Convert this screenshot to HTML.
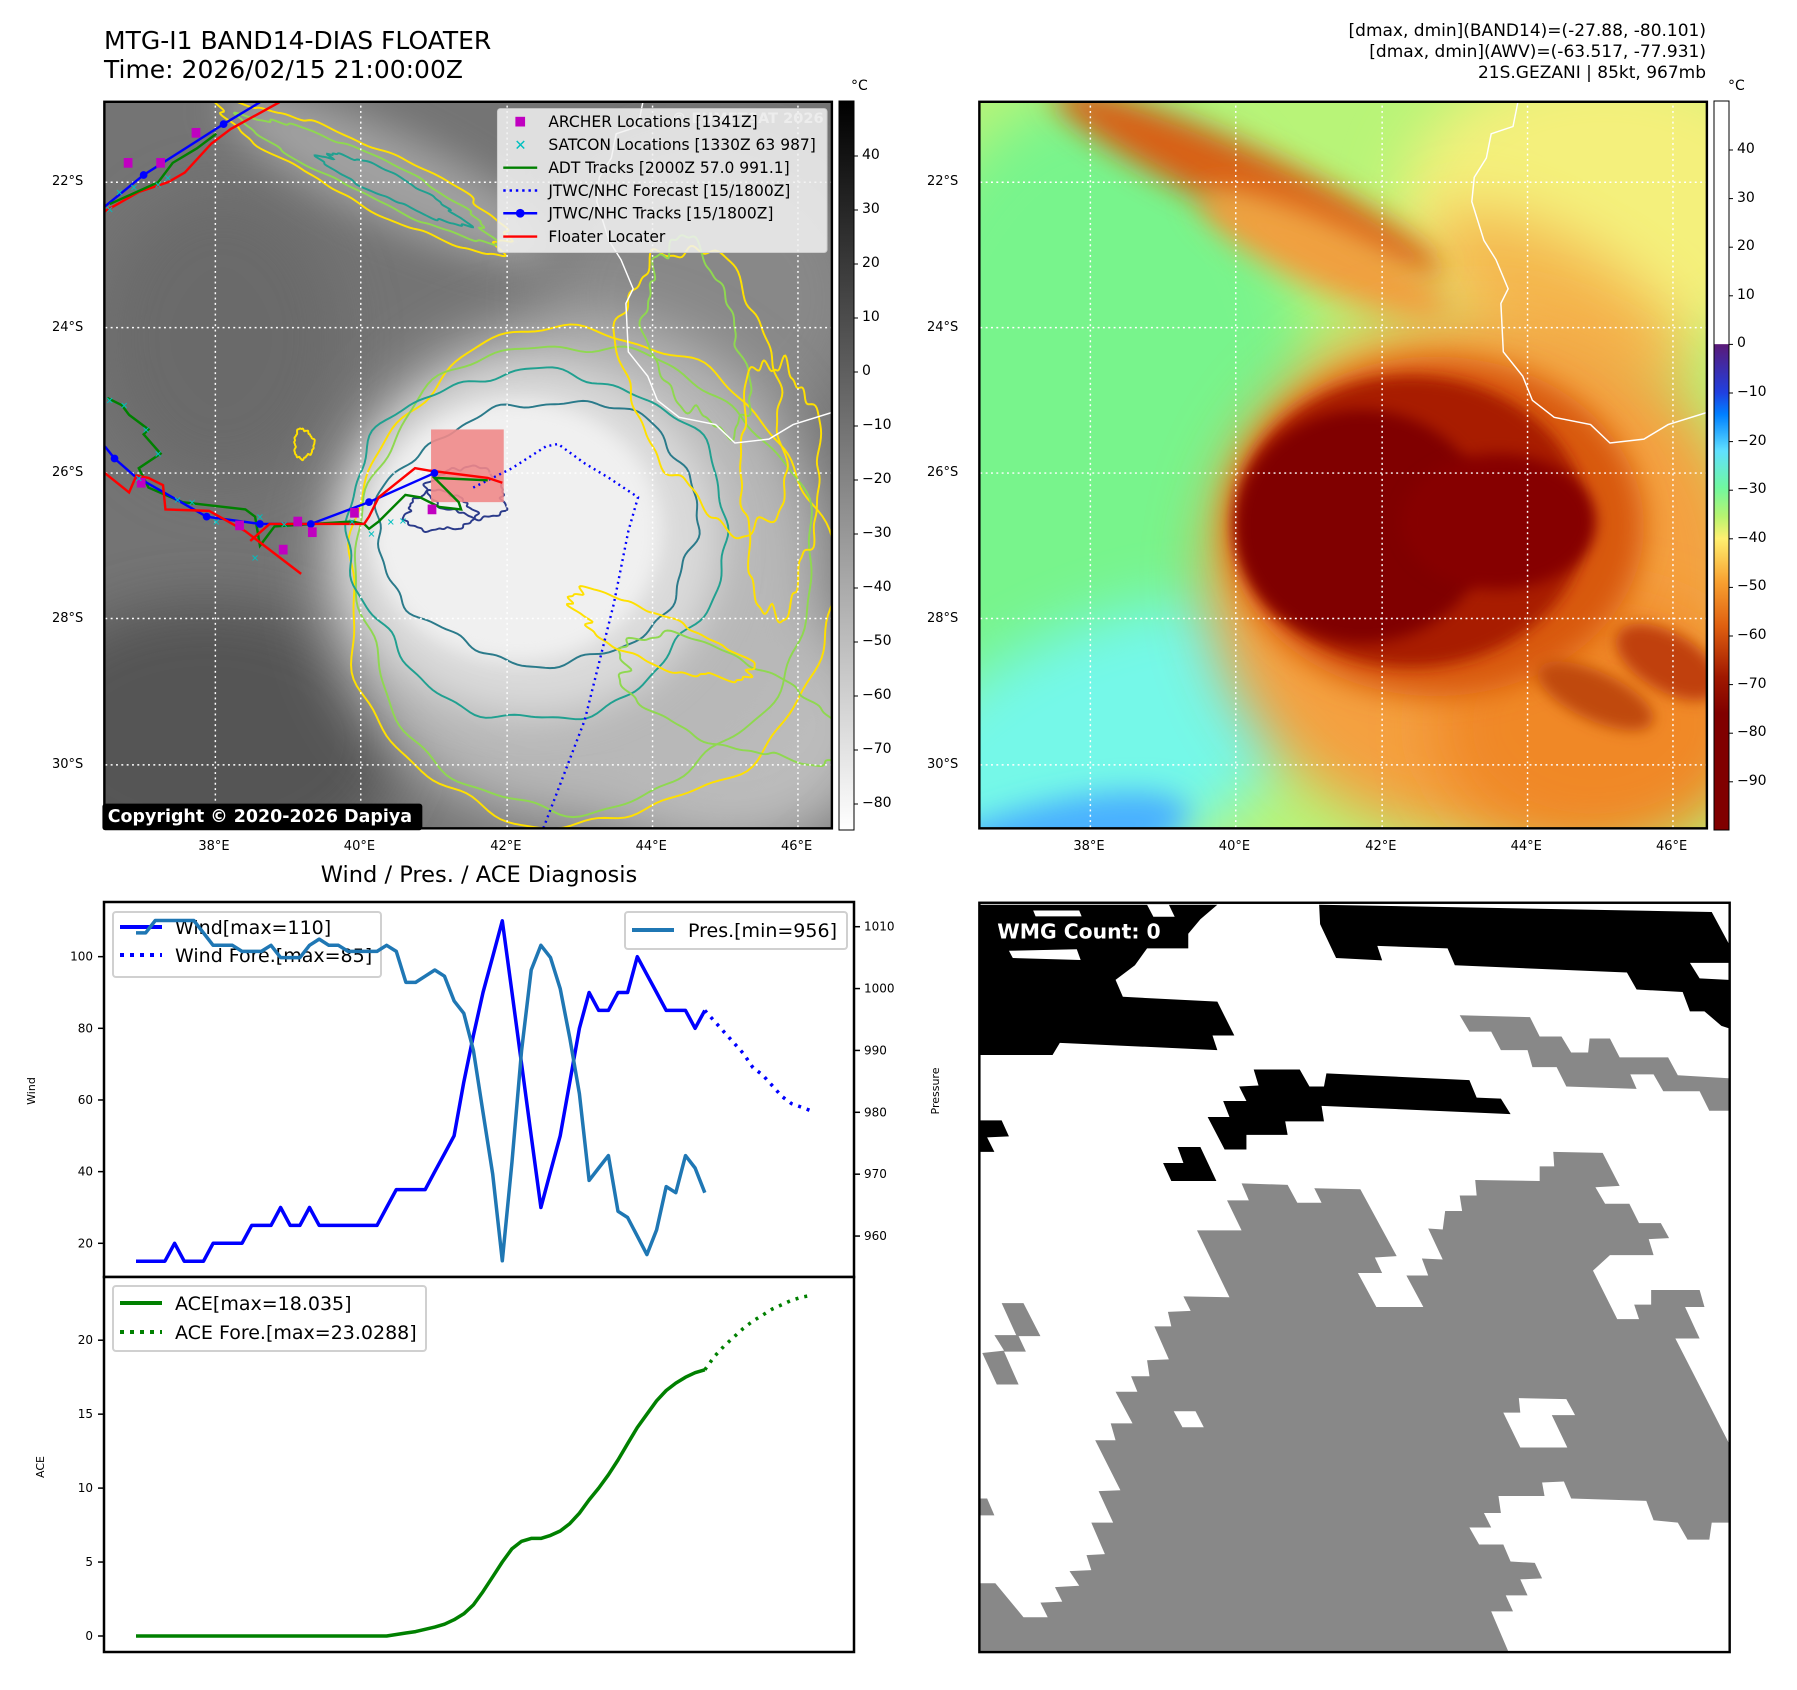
<!DOCTYPE html>
<html><head><meta charset="utf-8">
<style>
html,body{margin:0;padding:0;background:#fff;}
body{width:1797px;height:1690px;position:relative;overflow:hidden;font-family:"DejaVu Sans","Liberation Sans",sans-serif;color:#000;}
.abs{position:absolute;white-space:nowrap;}
.tick{font-size:13px;}
.rt{text-align:right;}
</style></head>
<body>
<div class="abs" style="left:104px;top:26px;font-size:25px;line-height:29px;">MTG-I1 BAND14-DIAS FLOATER<br>Time: 2026/02/15 21:00:00Z</div>
<div class="abs rt" style="right:91px;top:21px;font-size:17px;line-height:21px;">[dmax, dmin](BAND14)=(-27.88, -80.101)<br>[dmax, dmin](AWV)=(-63.517, -77.931)<br>21S.GEZANI | 85kt, 967mb</div>
<div class="abs" style="left:851px;top:78px;font-size:14px;">°C</div>
<div class="abs" style="left:1728px;top:78px;font-size:14px;">°C</div>

<!-- Left satellite map -->
<svg class="abs" style="left:100px;top:95px" width="760" height="760" viewBox="0 0 1568 1568">
<defs>
<clipPath id="clipL"><rect x="9" y="14" width="1501" height="1499"/></clipPath>
<filter id="b40" x="-50%" y="-50%" width="200%" height="200%"><feGaussianBlur stdDeviation="40"/></filter>
<filter id="b20" x="-50%" y="-50%" width="200%" height="200%"><feGaussianBlur stdDeviation="20"/></filter>
<filter id="b60" x="-50%" y="-50%" width="200%" height="200%"><feGaussianBlur stdDeviation="60"/></filter>
</defs>
<g clip-path="url(#clipL)" id="leftMap">
<rect x="0" y="0" width="1568" height="1568" fill="#747474"/>
<ellipse cx="220" cy="1330" rx="400" ry="280" fill="#555" filter="url(#b60)"/>
<ellipse cx="250" cy="500" rx="250" ry="300" fill="#6a6a6a" filter="url(#b60)"/>
<ellipse cx="600" cy="170" rx="380" ry="90" transform="rotate(25 600 170)" fill="#a0a0a0" filter="url(#b40)"/>
<ellipse cx="1250" cy="420" rx="330" ry="300" fill="#888" filter="url(#b60)"/>
<ellipse cx="1300" cy="1300" rx="320" ry="260" fill="#bcbcbc" filter="url(#b60)"/>
<ellipse cx="980" cy="980" rx="520" ry="520" fill="#b8b8b8" filter="url(#b60)"/>
<ellipse cx="890" cy="920" rx="390" ry="360" fill="#dadada" filter="url(#b40)"/>
<ellipse cx="860" cy="900" rx="300" ry="270" fill="#f0f0f0" filter="url(#b20)"/>
<g id="contoursL" fill="none" stroke-width="4"></g>
<path d="M1120,15 L1110,65 L1065,80 L1055,130 L1030,170 L1025,220 L1050,300 L1075,340 L1100,400 L1085,430 L1090,530 L1130,580 L1150,630 L1195,665 L1270,680 L1310,718 L1380,710 L1430,680 L1510,655" fill="none" stroke="#fff" stroke-width="3"/>
<g id="gridL" stroke="#fff" stroke-width="3" stroke-dasharray="4 7"></g>
<rect x="683" y="690" width="150" height="150" fill="#f08a8a" opacity="0.9"/>
<g id="tracksL" fill="none" stroke-width="5"></g>
<text x="1180" y="58" font-size="30" fill="#e8e8e8" opacity="0.8" font-weight="bold">© EUMETSAT 2026</text>
<g>
<rect x="820" y="28" width="680" height="297" rx="6" fill="#f2f2f2" fill-opacity="0.85" stroke="#ccc" stroke-width="2"/>
<rect x="857" y="45" width="20" height="20" fill="#c000c0"/>
<text x="925" y="66" font-size="32" font-family="DejaVu Sans, sans-serif">ARCHER Locations [1341Z]</text>
<text x="855" y="114" font-size="30" fill="#00c0c0" font-weight="bold">✕</text>
<text x="925" y="114" font-size="32" font-family="DejaVu Sans, sans-serif">SATCON Locations [1330Z 63 987]</text>
<line x1="832" y1="150" x2="902" y2="150" stroke="#008000" stroke-width="5"/>
<text x="925" y="161" font-size="32" font-family="DejaVu Sans, sans-serif">ADT Tracks [2000Z 57.0 991.1]</text>
<line x1="832" y1="197" x2="902" y2="197" stroke="#0000ff" stroke-width="5" stroke-dasharray="5 8"/>
<text x="925" y="208" font-size="32" font-family="DejaVu Sans, sans-serif">JTWC/NHC Forecast [15/1800Z]</text>
<line x1="832" y1="244" x2="902" y2="244" stroke="#0000ff" stroke-width="5"/><circle cx="867" cy="244" r="9" fill="#0000ff"/>
<text x="925" y="255" font-size="32" font-family="DejaVu Sans, sans-serif">JTWC/NHC Tracks [15/1800Z]</text>
<line x1="832" y1="292" x2="902" y2="292" stroke="#ff0000" stroke-width="5"/>
<text x="925" y="303" font-size="32" font-family="DejaVu Sans, sans-serif">Floater Locater</text>
</g>
</g>
<rect x="9" y="14" width="1501" height="1499" fill="none" stroke="#000" stroke-width="5"/>
<rect x="5" y="1462" width="660" height="55" rx="6" fill="#000"/>
<text x="16" y="1500" font-size="36" font-weight="bold" fill="#fff" font-family="DejaVu Sans, sans-serif">Copyright © 2020-2026 Dapiya</text>
</svg>

<!-- Left colorbar -->
<svg class="abs" style="left:838px;top:100px" width="18" height="731">
<defs><linearGradient id="gg" x1="0" y1="0" x2="0" y2="1"><stop offset="0" stop-color="#000"/><stop offset="1" stop-color="#fff"/></linearGradient></defs>
<rect x="1" y="1" width="15" height="729" fill="url(#gg)" stroke="#000" stroke-width="1"/>
</svg>

<!-- Right AWV map -->
<svg class="abs" style="left:975px;top:95px" width="760" height="760" viewBox="0 0 1568 1568">
<defs>
<clipPath id="clipR"><rect x="9" y="14" width="1501" height="1499"/></clipPath>
<filter id="c60" x="-50%" y="-50%" width="200%" height="200%"><feGaussianBlur stdDeviation="60"/></filter>
<filter id="c30" x="-50%" y="-50%" width="200%" height="200%"><feGaussianBlur stdDeviation="30"/></filter>
<filter id="c15" x="-50%" y="-50%" width="200%" height="200%"><feGaussianBlur stdDeviation="15"/></filter>
</defs>
<g clip-path="url(#clipR)">
<rect x="0" y="0" width="1568" height="1568" fill="#b8f478"/>
<ellipse cx="250" cy="700" rx="450" ry="700" fill="#78f48c" filter="url(#c60)"/>
<ellipse cx="250" cy="1350" rx="500" ry="250" transform="rotate(-25 250 1350)" fill="#74f8e8" filter="url(#c60)"/>
<ellipse cx="120" cy="1560" rx="330" ry="90" transform="rotate(-15 120 1560)" fill="#48b0ff" filter="url(#c30)"/>
<ellipse cx="1300" cy="230" rx="420" ry="300" fill="#f4f07c" filter="url(#c60)"/>
<ellipse cx="1200" cy="420" rx="300" ry="120" transform="rotate(30 1200 420)" fill="#f4b850" filter="url(#c60)"/>
<ellipse cx="560" cy="180" rx="440" ry="70" transform="rotate(25 560 180)" fill="#d86018" filter="url(#c30)"/>
<ellipse cx="720" cy="330" rx="280" ry="70" transform="rotate(25 720 330)" fill="#f0a040" filter="url(#c30)"/>
<ellipse cx="1040" cy="990" rx="560" ry="540" fill="#f4a040" filter="url(#c60)"/>
<ellipse cx="1280" cy="1300" rx="330" ry="260" fill="#f08828" filter="url(#c60)"/>
<ellipse cx="950" cy="890" rx="430" ry="350" fill="#d85810" filter="url(#c30)"/>
<ellipse cx="900" cy="880" rx="360" ry="300" fill="#a81a00" filter="url(#c15)"/>
<ellipse cx="800" cy="890" rx="260" ry="240" fill="#800000" filter="url(#c15)"/>
<ellipse cx="1080" cy="880" rx="200" ry="140" fill="#860200" filter="url(#c15)"/>
<ellipse cx="1430" cy="1170" rx="120" ry="60" transform="rotate(30 1430 1170)" fill="#c04008" filter="url(#c15)"/>
<ellipse cx="1280" cy="1240" rx="130" ry="50" transform="rotate(25 1280 1240)" fill="#c04a10" filter="url(#c15)"/>
<path d="M1120,15 L1110,65 L1065,80 L1055,130 L1030,170 L1025,220 L1050,300 L1075,340 L1100,400 L1085,430 L1090,530 L1130,580 L1150,630 L1195,665 L1270,680 L1310,718 L1380,710 L1430,680 L1510,655" fill="none" stroke="#fff" stroke-width="3"/>
<g id="gridR" stroke="#fff" stroke-width="3" stroke-dasharray="4 7"></g>
</g>
<rect x="9" y="14" width="1501" height="1499" fill="none" stroke="#000" stroke-width="5"/>
</svg>

<!-- Right colorbar -->
<svg class="abs" style="left:1713px;top:100px" width="18" height="731">
<defs><linearGradient id="cg" x1="0" y1="0" x2="0" y2="1">
<stop offset="0" stop-color="#ffffff"/><stop offset="0.333" stop-color="#ffffff"/>
<stop offset="0.334" stop-color="#5a1a78"/><stop offset="0.40" stop-color="#2040e0"/>
<stop offset="0.43" stop-color="#0080ff"/><stop offset="0.48" stop-color="#60e0ff"/>
<stop offset="0.53" stop-color="#70f8a0"/><stop offset="0.57" stop-color="#b8f470"/>
<stop offset="0.60" stop-color="#fff070"/><stop offset="0.66" stop-color="#f8a030"/>
<stop offset="0.72" stop-color="#e06010"/><stop offset="0.79" stop-color="#a01800"/>
<stop offset="0.84" stop-color="#800000"/><stop offset="1" stop-color="#800000"/>
</linearGradient></defs>
<rect x="1" y="1" width="15" height="729" fill="url(#cg)" stroke="#000" stroke-width="1"/>
</svg>

<div id="labels"></div>

<!-- WMG panel -->
<svg class="abs" style="left:975px;top:895px" width="760" height="760" viewBox="0 0 1568 1568">
<rect x="9" y="16" width="1548" height="1546" fill="#fff"/>
<g fill="#000">
<polygon points="10,20 500,20 465,50 440,80 440,110 355,110 330,145 290,175 305,210 500,220 535,290 490,290 500,320 175,305 160,330 10,330"/>
<polygon points="710,20 1520,35 1555,100 1555,275 1540,270 1505,240 1475,240 1460,200 1365,195 1345,160 990,145 975,110 830,105 840,135 745,130 712,60"/>
<polygon points="575,360 670,360 690,395 720,395 725,368 1020,382 1035,418 1085,420 1105,452 715,435 720,467 640,467 645,495 560,495 560,525 515,525 480,458 525,458 512,425 560,425 545,395 585,393"/>
<polygon points="10,465 55,465 70,498 25,500 40,530 10,530"/>
<polygon points="418,520 465,520 498,590 405,590 388,553 430,553"/>
</g>
<g fill="#fff"><polygon points="120,32 215,32 220,44 125,44"/><polygon points="70,115 210,112 218,134 78,130"/><polygon points="1475,140 1555,140 1555,175 1495,172"/><polygon points="355,20 400,20 412,45 368,45"/></g>
<g fill="#888">
<polygon points="1000,248 1145,252 1165,292 1210,292 1230,325 1265,325 1268,296 1310,296 1330,335 1430,335 1450,372 1555,378 1555,445 1515,445 1495,405 1420,405 1400,370 1352,370 1365,400 1220,395 1200,355 1150,355 1140,320 1085,320 1065,282 1020,282"/>
<polygon points="550,595 645,598 665,635 715,635 700,605 795,607 870,745 825,748 840,780 790,780 828,850 925,850 890,785 935,785 922,750 965,752 935,688 965,690 970,652 1005,652 1000,620 1035,620 1032,588 1165,590 1165,560 1195,560 1193,530 1295,532 1330,600 1280,603 1300,637 1350,637 1370,677 1415,677 1432,708 1390,710 1400,743 1310,743 1275,775 1325,875 1370,875 1360,845 1395,845 1395,815 1495,815 1505,850 1465,850 1495,915 1445,915 1555,1130 1555,1295 1520,1295 1515,1330 1470,1330 1450,1295 1400,1290 1385,1250 1230,1245 1215,1210 1170,1212 1175,1240 1080,1240 1085,1275 1050,1275 1065,1305 1020,1305 1040,1340 1090,1340 1105,1375 1155,1378 1170,1410 1125,1412 1140,1445 1095,1445 1110,1478 1065,1478 1100,1560 10,1560 10,1420 42,1420 100,1490 150,1490 135,1460 180,1458 165,1428 215,1425 195,1395 240,1393 230,1362 268,1360 240,1295 285,1295 255,1230 300,1228 248,1125 290,1125 280,1090 325,1090 290,1025 335,1025 322,993 360,993 355,960 400,958 370,890 405,890 398,860 445,858 430,828 525,830 458,692 550,692 520,630 565,630"/>
<polygon points="55,842 100,842 135,910 90,910 105,942 60,942 90,1010 45,1010 15,945 60,940 40,908 85,908"/>
<polygon points="10,1245 25,1245 40,1280 10,1280"/>
</g>
<g fill="#fff"><polygon points="410,1065 455,1065 472,1098 428,1098"/><polygon points="1090,1068 1125,1068 1122,1038 1220,1040 1238,1073 1190,1073 1222,1140 1125,1140"/></g>
<rect x="9" y="16" width="1548" height="1546" fill="none" stroke="#000" stroke-width="5"/>
<text x="46" y="90" font-size="42" font-weight="bold" fill="#fff" font-family="DejaVu Sans, sans-serif">WMG Count: 0</text>
</svg>

<!-- Diagnosis chart -->
<svg id="chart" class="abs" style="left:0;top:0" width="1797" height="1690"></svg>

<script>
// ===== Diagnosis chart data =====
const windVals = [15,15,15,15,20,15,15,15,20,20,20,20,25,25,25,30,25,25,30,25,25,25,25,25,25,25,30,35,35,35,35,40,45,50,65,78,90,100,110,90,70,50,30,40,50,65,80,90,85,85,90,90,100,95,90,85,85,85,80,85];
const windFore = [85,82,79,76,73,69,67,64,61,59,58,57];
const presVals = [1009,1009,1011,1011,1011,1011,1011,1009,1007,1007,1007,1006,1006,1006,1007,1005,1005,1005,1007,1008,1007,1007,1006,1006,1006,1006,1007,1006,1001,1001,1002,1003,1002,998,996,990,980,970,956,972,990,1003,1007,1005,1000,992,983,969,971,973,964,963,960,957,961,968,967,973,971,967];
const aceVals = [0,0,0,0,0,0,0,0,0,0,0,0,0,0,0,0,0,0,0,0,0,0,0,0,0,0,0,0.1,0.2,0.3,0.45,0.6,0.8,1.1,1.5,2.1,3.0,4.0,5.0,5.9,6.4,6.6,6.6,6.8,7.1,7.6,8.3,9.2,10.0,10.9,11.9,13.0,14.1,15.0,15.9,16.6,17.1,17.5,17.8,18.0];
const aceFore = [18.0,18.9,19.6,20.2,20.8,21.3,21.7,22.1,22.4,22.7,22.9,23.03];
const windTicks = [20,40,60,80,100];
const presTicks = [960,970,980,990,1000,1010];
const aceTicks = [0,5,10,15,20];
const latLabels = ["22°S","24°S","26°S","28°S","30°S"];
const lonLabels = ["38°E","40°E","42°E","44°E","46°E"];
const grayTicks = [40,30,20,10,0,-10,-20,-30,-40,-50,-60,-70,-80];
const awvTicks = [40,30,20,10,0,-10,-20,-30,-40,-50,-60,-70,-80,-90];

const NS = "http://www.w3.org/2000/svg";
const svg = document.getElementById('chart');
function xS(i){ return 136 + i*9.64; }
function yW(v){ return 1243.3 - (v-20)*3.583; }
function yP(p){ return 926.7 + (1010-p)*6.187; }
function yA(v){ return 1636 - v*14.79; }
function mk(tag, attrs, parent){ const e=document.createElementNS(NS,tag); for(const k in attrs) e.setAttribute(k,attrs[k]); (parent||svg).appendChild(e); return e; }
function txt(x,y,s,size,anchor,parent,extra){ const t=mk('text',Object.assign({x:x,y:y,'font-size':size,'text-anchor':anchor||'start','font-family':'DejaVu Sans, sans-serif'},extra||{}),parent); t.textContent=s; return t; }

// frames
const f1 = mk('rect',{x:104,y:902,width:750,height:375,fill:'#fff',stroke:'#000','stroke-width':2.5});


const f2 = mk('rect',{x:104,y:1277,width:750,height:375,fill:'#fff',stroke:'#000','stroke-width':2.5});


const ct = txt(479,882,'Wind / Pres. / ACE Diagnosis',22.5,'middle');



windTicks.forEach(v=>{ const y=yW(v); mk('line',{x1:98,y1:y,x2:104,y2:y,stroke:'#000','stroke-width':1.5}); const t=txt(93,y+4,String(v),12,'end');   });
presTicks.forEach(v=>{ const y=yP(v); mk('line',{x1:854,y1:y,x2:860,y2:y,stroke:'#000','stroke-width':1.5}); const t=txt(864,y+4,String(v),12,'start');   });
aceTicks.forEach(v=>{ const y=yA(v); mk('line',{x1:98,y1:y,x2:104,y2:y,stroke:'#000','stroke-width':1.5}); const t=txt(93,y+4,String(v),12,'end');   });
const yl1=txt(0,0,'Wind',11,'middle',null,{transform:'translate(35,1091) rotate(-90)'});


const yl2=txt(0,0,'Pressure',11,'middle',null,{transform:'translate(939,1091) rotate(-90)'});


const yl3=txt(0,0,'ACE',11,'middle',null,{transform:'translate(44,1467) rotate(-90)'});



function pts(arr, off, yf){ return arr.map((v,i)=>xS(i+off).toFixed(1)+','+yf(v).toFixed(1)).join(' '); }
// wind
const wl = mk('polyline',{points:pts(windVals,0,yW),fill:'none',stroke:'#0000ff','stroke-width':3.5,'stroke-linejoin':'round'});


const wf = mk('polyline',{points:pts(windFore,windVals.length-1,yW),fill:'none',stroke:'#0000ff','stroke-width':3.5,'stroke-dasharray':'3 6'});


// wind legend
const lg1 = mk('g',{});


mk('rect',{x:113,y:912,width:268,height:65,rx:3,fill:'#fff','fill-opacity':0.85,stroke:'#d0d0d0','stroke-width':2},lg1);
mk('line',{x1:120,y1:927,x2:162,y2:927,stroke:'#0000ff','stroke-width':4},lg1);
txt(175,934,'Wind[max=110]',19,'start',lg1);
mk('line',{x1:120,y1:955,x2:162,y2:955,stroke:'#0000ff','stroke-width':4,'stroke-dasharray':'4 6'},lg1);
txt(175,962,'Wind Fore.[max=85]',19,'start',lg1);
// pressure
const pl = mk('polyline',{points:pts(presVals,0,yP),fill:'none',stroke:'#1f77b4','stroke-width':3.5,'stroke-linejoin':'round'});


const lg2 = mk('g',{});


mk('rect',{x:625,y:912,width:222,height:37,rx:3,fill:'#fff','fill-opacity':0.85,stroke:'#d0d0d0','stroke-width':2},lg2);
mk('line',{x1:632,y1:930,x2:674,y2:930,stroke:'#1f77b4','stroke-width':4},lg2);
txt(688,937,'Pres.[min=956]',19,'start',lg2);
// ACE
const al = mk('polyline',{points:pts(aceVals,0,yA),fill:'none',stroke:'#008000','stroke-width':3.5,'stroke-linejoin':'round'});


const af = mk('polyline',{points:pts(aceFore,aceVals.length-1,yA),fill:'none',stroke:'#008000','stroke-width':3.5,'stroke-dasharray':'3 6'});


const lg3 = mk('g',{});


mk('rect',{x:113,y:1286,width:313,height:65,rx:3,fill:'#fff','fill-opacity':0.85,stroke:'#d0d0d0','stroke-width':2},lg3);
mk('line',{x1:120,y1:1303,x2:162,y2:1303,stroke:'#008000','stroke-width':4},lg3);
txt(175,1310,'ACE[max=18.035]',19,'start',lg3);
mk('line',{x1:120,y1:1332,x2:162,y2:1332,stroke:'#008000','stroke-width':4,'stroke-dasharray':'4 6'},lg3);
txt(175,1339,'ACE Fore.[max=23.0288]',19,'start',lg3);

// ===== map labels =====
const lab = document.getElementById('labels');
function div(x,y,s,cls,style){ const d=document.createElement('div'); d.className='abs tick '+(cls||''); d.style.cssText=style||''; d.style.left=x+'px'; d.style.top=y+'px'; d.textContent=s; lab.appendChild(d); return d; }
const gridX=[215.4,360.8,507.2,652.6,798], gridY=[182.3,327.7,473,618.5,765];
latLabels.forEach((s,i)=>{ let d=div(52,gridY[i]-8,s);   d=div(927,gridY[i]-8,s);   });
lonLabels.forEach((s,i)=>{ let d=div(gridX[i]-17,839,s);   d=div(gridX[i]+875-17,839,s);   });
grayTicks.forEach(v=>{ const y=156+(40-v)*5.4; const d=div(862,y-9,(v<0?'\u2212':'')+Math.abs(v),'','font-size:14px');   mk('line',{x1:854,y1:y,x2:858,y2:y,stroke:'#000'}); });
awvTicks.forEach(v=>{ const y=150+(40-v)*4.86; const d=div(1737,y-9,(v<0?'\u2212':'')+Math.abs(v),'','font-size:14px');   mk('line',{x1:1729,y1:y,x2:1733,y2:y,stroke:'#000'}); });

// grids on maps (zoom frame coords)
function grid(id){ const g=document.getElementById(id); [238,538,840,1140,1440].forEach(x=>mk('line',{x1:x,y1:0,x2:x,y2:1568},g)); [180,480,780,1080,1382].forEach(y=>mk('line',{x1:0,y1:y,x2:1568,y2:y},g)); }
grid('gridL'); grid('gridR');

// contours (decorative)
function loop(cx,cy,rx,ry,rot,seed,amp){ let d=''; const n=220; for(let k=0;k<=n;k++){ const t=k/n*Math.PI*2; const r=1+amp*(0.5*Math.sin(3*t+seed)+0.3*Math.sin(7*t+seed*2)+0.2*Math.sin(13*t+seed*3)+0.12*Math.sin(23*t+seed)); let x=rx*r*Math.cos(t), y=ry*r*Math.sin(t); const c=Math.cos(rot), s=Math.sin(rot); const X=cx+x*c-y*s, Y=cy+x*s+y*c; d+=(k?'L':'M')+X.toFixed(1)+','+Y.toFixed(1); } return d+'Z'; }
const cg = document.getElementById('contoursL');
[[1000,1000,500,510,0,1,0.06,'#ffe000'],[990,990,470,480,0,2,0.06,'#8fd850'],[900,920,390,360,0,3,0.07,'#20a090'],[910,900,330,270,-0.1,4,0.08,'#2a7a8a'],
 [560,170,330,60,0.45,5,0.15,'#ffe000'],[560,170,280,40,0.45,6,0.15,'#8fd850'],[600,190,160,25,0.45,7,0.2,'#20a090'],
 [1300,1250,260,90,0.4,8,0.15,'#8fd850'],[1150,1120,200,50,0.4,9,0.2,'#ffe000'],[1250,600,150,300,-0.3,10,0.15,'#ffe000'],
 [1230,500,90,200,-0.3,11,0.2,'#8fd850'],[760,820,80,50,0.2,12,0.2,'#2a3a8a'],[700,860,70,40,0,13,0.2,'#2a3a8a'],[420,720,20,30,0,14,0.2,'#ffe000'],[1400,800,80,260,0,15,0.2,'#ffe000']
].forEach(c=>mk('path',{d:loop(c[0],c[1],c[2],c[3],c[4],c[5],c[6]),stroke:c[7]},cg));

// tracks (decorative map overlay)
const tg = document.getElementById('tracksL');
mk('polyline',{points:'770,810 850,770 920,725 945,720 1000,760 1050,790 1110,830 1090,900 1060,1050 1000,1290 915,1512',stroke:'#0000ff','stroke-dasharray':'4 8'},tg);
mk('polyline',{points:'15,625 45,640 60,660 100,690 90,700 125,740 80,770 100,810 170,840 300,855 320,870 330,930 360,890 520,880 545,885 555,895 575,880 630,825 660,830 700,850 745,855 740,840 690,790 800,795',stroke:'#008000'},tg);
mk('polyline',{points:'10,230 90,165 255,60 330,15',stroke:'#0000ff'},tg);
mk('polyline',{points:'10,725 30,750 70,785 220,870 330,885 435,885 555,840 690,780',stroke:'#0000ff'},tg);
mk('polyline',{points:'10,780 60,820 75,785 100,790 130,805 135,855 225,858 300,900 415,988',stroke:'#ff0000'},tg);
mk('polyline',{points:'310,920 350,885 520,885 545,885 555,870 575,830 650,770 680,775 800,790 830,800',stroke:'#ff0000'},tg);
mk('polyline',{points:'10,240 80,200 140,180 175,160 230,100 270,70 370,15',stroke:'#ff0000'},tg);
mk('polyline',{points:'20,225 120,180 150,140 200,110 240,80',stroke:'#008000'},tg);
[[30,750],[90,165],[255,60],[220,870],[330,885],[435,885],[555,840],[690,780]].forEach(p=>mk('circle',{cx:p[0],cy:p[1],r:8,fill:'#0000ff',stroke:'none'},tg));
[[58,140],[125,140],[198,78],[85,800],[288,888],[378,938],[408,880],[438,902],[525,862],[685,855]].forEach(p=>mk('rect',{x:p[0]-9,y:p[1]-10,width:18,height:20,fill:'#c000c0',stroke:'none'},tg));
[[20,630],[50,640],[95,690],[120,740],[80,790],[160,835],[190,840],[240,880],[320,955],[330,870],[380,885],[520,880],[560,905],[600,880],[625,878],[40,200],[70,190],[120,185],[140,170],[20,235]].forEach(p=>{ const t=txt(p[0],p[1]+8,'✕',20,'middle',tg,{fill:'#00c0c0',stroke:'none','font-weight':'bold'}); });
</script>
</body></html>
